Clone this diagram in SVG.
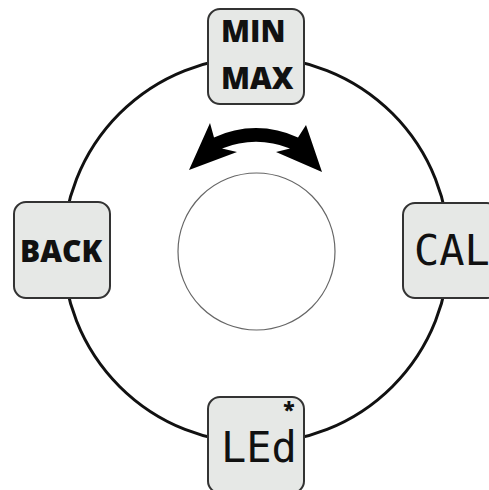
<svg xmlns="http://www.w3.org/2000/svg" width="489" height="490" viewBox="0 0 489 490">
  <style>
    .key { fill: #e6e8e6; stroke: #333333; stroke-width: 2; }
    .lbl { font-family: "Open Sans", "Liberation Sans", sans-serif; font-weight: 800; fill: #111111; }
    .seg { font-family: "DejaVu Sans Mono", "Liberation Mono", monospace; font-weight: 400; fill: #111111; }
  </style>
  <rect width="489" height="490" fill="#ffffff"/>
  <g id="connectors">
    <circle cx="256" cy="250" r="193" fill="none" stroke="#111111" stroke-width="3"/>
  </g>
  <g id="knob">
    <circle cx="256.5" cy="251.5" r="78.5" fill="#ffffff" stroke="#666666" stroke-width="1.2"/>
  </g>
  <g id="rotate-arrow">
    <path d="M189 170 L210 123 L214 137.5 A97.5 97.5 0 0 1 298 137.5 L306 125 L322 172 L276 152 L290 148.4 A93.75 93.75 0 0 0 222 148.4 L237 152 Z" fill="#000000"/>
  </g>
  <g id="minmax">
    <rect class="key" x="208" y="9" width="96" height="95" rx="12"/>
    <text class="lbl" x="221" y="42" font-size="30">MIN</text>
    <text class="lbl" x="221" y="89" font-size="30">MAX</text>
  </g>
  <g id="back">
    <rect class="key" x="14" y="202" width="96" height="96" rx="12"/>
    <text class="lbl" x="61" y="262" font-size="30" text-anchor="middle">BACK</text>
  </g>
  <g id="cal">
    <rect class="key" x="403" y="203" width="96" height="95" rx="12"/>
    <text class="seg" x="414" y="265" font-size="42">CAL</text>
  </g>
  <g id="led">
    <rect class="key" x="208" y="397" width="96" height="96" rx="12"/>
    <text class="seg" x="221" y="462" font-size="42">LEd</text>
    <text class="lbl" x="289" y="417" font-size="21" text-anchor="middle">*</text>
  </g>
</svg>
